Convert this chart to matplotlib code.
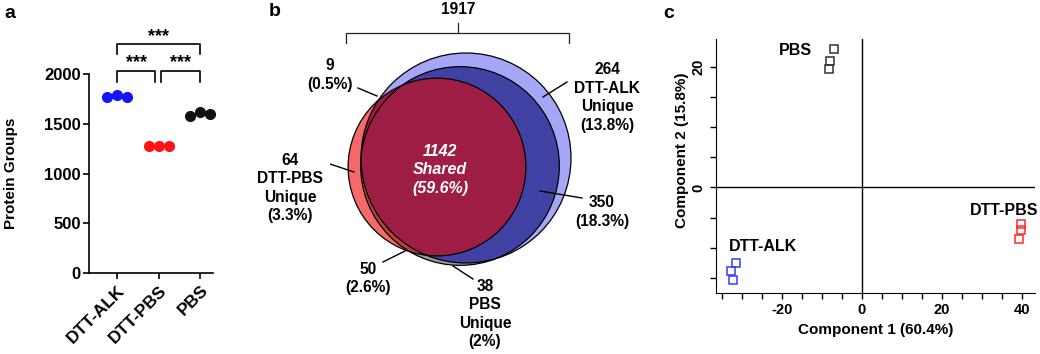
import numpy as np
import matplotlib.pyplot as plt
from matplotlib.patches import Circle
from matplotlib.ticker import MultipleLocator

plt.rcParams['font.family'] = ['Liberation Sans', 'DejaVu Sans']
plt.rcParams['font.weight'] = 'bold'
plt.rcParams['axes.labelweight'] = 'bold'
plt.rcParams['axes.unicode_minus'] = False

W, H = 1040, 354

# ---- data: panel a (protein groups per replicate)
groups = ['DTT-ALK', 'DTT-PBS', 'PBS']
protein_groups = [[1772, 1789, 1772],
                  [1279, 1279, 1279],
                  [1581, 1615, 1595]]
sig_pairs = [(0, 1), (1, 2), (0, 2)]
sig_labels = ['***', '***', '***']

# ---- data: panel b (venn regions)
venn_total = 1917
n_alk_only = 264
n_dttpbs_only = 64
n_pbs_only = 38
n_shared = 1142
n_alk_pbs = 350
n_dttpbs_pbs = 50
n_alk_dttpbs = 9
pct_alk_only, pct_dttpbs_only, pct_pbs_only = 13.8, 3.3, 2
pct_shared, pct_alk_pbs, pct_dttpbs_pbs, pct_alk_dttpbs = 59.6, 18.3, 2.6, 0.5

# ---- data: panel c (PCA scores)
pca_groups = ['DTT-ALK', 'DTT-PBS', 'PBS']
pc1 = [[-31.5, -32.8, -32.2], [39.75, 39.75, 39.3], [-6.9, -8.0, -8.3]]
pc2 = [[-12.6, -13.9, -15.4], [-6.1, -7.1, -8.5], [22.9, 21.0, 19.6]]
pc1_var, pc2_var = 60.4, 15.8

colors = ['#1414ff', '#ff1414', '#111111']
pca_colors = ['#3a3aff', '#ff2a2a', '#333333']

fig = plt.figure(figsize=(W / 100, H / 100), dpi=100)


def box(l, t, r, b):
    return [l / W, 1 - b / H, (r - l) / W, (b - t) / H]


# ================= panel a
ax = fig.add_axes(box(89, 74, 213, 273))
offs = [-0.24, 0, 0.24]
for i, vals in enumerate(protein_groups):
    xx = [i + o for o in offs]
    ax.plot(xx, vals, '-o', color=colors[i], ms=7, lw=1.5, clip_on=False)
ax.set_xlim(-0.675, 2.31)
ax.set_ylim(0, 2000)
ax.set_yticks([0, 500, 1000, 1500, 2000])
ax.set_xticks(range(len(groups)))
ax.set_xticklabels(groups, rotation=45, ha='right', rotation_mode='anchor', fontsize=12.5)
ax.tick_params(axis='y', labelsize=12, length=4, width=1.2, pad=2)
ax.tick_params(axis='x', length=4, width=1.2, pad=3)
for s in ['top', 'right']:
    ax.spines[s].set_visible(False)
for s in ['left', 'bottom']:
    ax.spines[s].set_linewidth(1.2)
ax.set_ylabel('Protein Groups', fontsize=11)
ax.yaxis.set_label_coords(-0.57, 0.5)

# significance brackets
br = [(0.0, 0.92, 2030, 1920, 2110), (1.07, 2.0, 2030, 1920, 2110), (0.0, 2.0, 2300, 2200, 2380)]
for (xa, xb, ytop, ybot, ys), lab in zip(br, sig_labels):
    ax.plot([xa, xa, xb, xb], [ybot, ytop, ytop, ybot], color='k', lw=1.2, clip_on=False)
    ax.text((xa + xb) / 2, ys, lab, ha='center', va='center', fontsize=13)

fig.text(10 / W, 1 - 13 / H, 'a', fontsize=14, ha='center', va='center')

# ================= panel b
x0, x1 = 330, 620
axb = fig.add_axes([x0 / W, 0, (x1 - x0) / W, 1])
axb.set_xlim(x0, x1)
axb.set_ylim(H, 0)
axb.axis('off')

size_alk = n_alk_only + n_alk_pbs + n_shared + n_alk_dttpbs
size_dttpbs = n_dttpbs_only + n_dttpbs_pbs + n_shared + n_alk_dttpbs
size_pbs = n_pbs_only + n_alk_pbs + n_dttpbs_pbs + n_shared
k = 105 / np.sqrt(size_alk)
circ = {
    'alk': (466, 158, k * np.sqrt(size_alk)),
    'dtt': (437, 167, k * np.sqrt(size_dttpbs)),
    'pbs': (460, 166, k * np.sqrt(size_pbs)),
}

ix, iy = np.meshgrid(np.arange(x0, x1), np.arange(0, H))
X, Y = ix + 0.5, iy + 0.5
inside = {key: (X - cx) ** 2 + (Y - cy) ** 2 <= r ** 2 for key, (cx, cy, r) in circ.items()}
A, D, P = inside['alk'], inside['dtt'], inside['pbs']

img = np.zeros(X.shape + (4,))


def fill(mask, hexc):
    c = np.array([int(hexc[j:j + 2], 16) / 255 for j in (1, 3, 5)] + [1.0])
    img[mask] = c


fill(A & ~D & ~P, '#a6a6f7')
fill(A & P & ~D, '#4848b4')
fill(P & ~A & ~D, '#a8a8a8')
fill(D & ~A & ~P, '#f46a6a')
fill(D & A & ~P, '#a01c40')
fill(D & P & ~A, '#cc4a3c')
fill(D & A & P, '#ae214c')
hatch = P & ((ix + iy) % 2 == 0)
img[hatch, :3] *= 0.82
axb.imshow(img, extent=(x0, x1, H, 0), interpolation='nearest', origin='upper', aspect='auto')
for cx, cy, r in circ.values():
    axb.add_patch(Circle((cx, cy), r, fill=False, ec='k', lw=0.9))

# total bracket
axb.plot([346, 346, 569, 569], [43, 33, 33, 43], color='#222222', lw=0.9)
axb.plot([458, 458], [33, 23], color='#222222', lw=0.9)

fs = 11.2
ls = 1.3
axb.text(458, 10, f'{venn_total}', ha='center', va='center', fontsize=fs)
labels_b = [
    (330, 75, f'{n_alk_dttpbs}\n({pct_alk_dttpbs:g}%)', [(358, 88), (377, 96)]),
    (607, 97.5, f'{n_alk_only}\nDTT-ALK\nUnique\n({pct_alk_only:g}%)', [(567, 82), (543, 97)]),
    (602, 212, f'{n_alk_pbs}\n({pct_alk_pbs:g}%)', [(582, 198), (540, 191)]),
    (290, 188, f'{n_dttpbs_only}\nDTT-PBS\nUnique\n({pct_dttpbs_only:g}%)', [(327, 163), (354, 172)]),
    (368, 278.5, f'{n_dttpbs_pbs}\n({pct_dttpbs_pbs:g}%)', [(383, 262), (407, 250)]),
    (485, 314, f'{n_pbs_only}\nPBS\nUnique\n({pct_pbs_only:g}%)', [(473, 279), (453, 266)]),
]
for tx, ty, s, line in labels_b:
    axb.text(tx, ty, s, ha='center', va='center', fontsize=fs, linespacing=ls)
    (xa, ya), (xb, yb) = line
    axb.plot([xa, xb], [ya, yb], color='k', lw=1.0)
axb.text(440, 170, f'{n_shared}\nShared\n({pct_shared:g}%)', ha='center', va='center',
         fontsize=11.5, style='italic', color='white', linespacing=1.25)

fig.text(275 / W, 1 - 11 / H, 'b', fontsize=14, ha='center', va='center')

# ================= panel c
axc = fig.add_axes(box(716, 39, 1035, 293))
for i, g in enumerate(pca_groups):
    axc.plot(pc1[i], pc2[i], 's', mfc='none', mec=pca_colors[i], ms=6, mew=1.1)
axc.set_xlim(-36.5, 43.25)
axc.set_ylim(-17.5, 24.6)
axc.axhline(0, color='k', lw=1)
axc.axvline(0, color='k', lw=1)
axc.xaxis.set_major_locator(MultipleLocator(20))
axc.xaxis.set_minor_locator(MultipleLocator(5))
axc.yaxis.set_major_locator(MultipleLocator(20))
axc.yaxis.set_minor_locator(MultipleLocator(5))
axc.tick_params(which='both', direction='out', length=4, width=1, labelsize=10.5)
plt.setp(axc.get_yticklabels(), rotation=90, va='center')
for s in ['top', 'right']:
    axc.spines[s].set_visible(False)
axc.set_xlabel(f'Component 1 ({pc1_var}%)', fontsize=11)
axc.set_ylabel(f'Component 2 ({pc2_var}%)', fontsize=11)
axc.xaxis.set_label_coords(0.5, -0.145)
axc.xaxis.label.set_va('center')
axc.yaxis.set_label_coords(-0.107, 0.563)
axc.yaxis.label.set_va('center')

group_label_pos = [(-24.75, -9.85), (35.5, -3.8), (-16.75, 22.7)]
for g, (lx, ly) in zip(pca_groups, group_label_pos):
    axc.text(lx, ly, g, ha='center', va='center', fontsize=11.5)

fig.text(669 / W, 1 - 13 / H, 'c', fontsize=14, ha='center', va='center')

fig.savefig('out.png', dpi=100)
